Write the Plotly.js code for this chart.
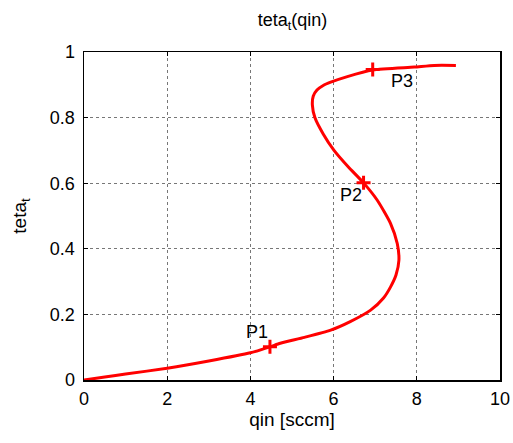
<!DOCTYPE html>
<html>
<head>
<meta charset="utf-8">
<script src="https://cdn.plot.ly/plotly-3.0.1.min.js"></script>
<style>html,body{margin:0;padding:0;background:#fff;}#chart{width:513px;height:443px;}</style>
</head>
<body>
<div id="chart"></div>
<script>
const qin = [0, 0.5, 1, 2, 3, 4, 4.47, 4.72, 5.3, 5.93, 6.4, 6.89, 7.2, 7.37, 7.5, 7.57, 7.53, 7.37, 7.05, 6.72, 6.35, 6.01, 5.75, 5.55, 5.49, 5.51, 5.6, 5.75, 5.93, 6.33, 6.94, 7.94, 8.42, 8.94];
const teta = [0, 0.009, 0.018, 0.036, 0.058, 0.083, 0.101, 0.112, 0.13, 0.152, 0.178, 0.213, 0.25, 0.284, 0.32, 0.365, 0.416, 0.477, 0.548, 0.601, 0.65, 0.70, 0.75, 0.80, 0.838, 0.865, 0.884, 0.898, 0.908, 0.925, 0.945, 0.954, 0.959, 0.959];
const pointNames = ["P1", "P2", "P3"];
const pointQin = [4.47, 6.72, 6.94];
const pointTeta = [0.101, 0.601, 0.947];
const labelQin = [4.15, 6.41, 7.64];
const labelTeta = [0.147, 0.563, 0.913];

const FONT = 'Liberation Sans, Arial, sans-serif';

const traces = [
  {x: qin, y: teta, mode: 'lines', line: {color: '#ff0000', width: 3, shape: 'spline', smoothing: 0.6}, hoverinfo: 'skip'},
  {x: pointQin, y: pointTeta, mode: 'markers',
   marker: {symbol: 'cross-thin', size: 10, color: '#ff0000', line: {color: '#ff0000', width: 3}}}
];

const annotations = pointNames.map((n, i) => ({
  x: labelQin[i], y: labelTeta[i], xref: 'x', yref: 'y', text: n, showarrow: false,
  font: {family: FONT, size: 18, color: '#000'}
}));

const axisCommon = {
  showline: true, linecolor: '#000', linewidth: 1.5, mirror: 'ticks',
  ticks: 'inside', ticklen: 4, tickcolor: '#000', tickwidth: 1,
  showgrid: true, gridcolor: '#777', griddash: 'dot', gridwidth: 1,
  zeroline: false,
  tickfont: {family: FONT, size: 18, color: '#000'}
};

const layout = {
  width: 513, height: 443,
  margin: {l: 84, r: 13, t: 52, b: 63},
  paper_bgcolor: '#fff', plot_bgcolor: '#fff',
  showlegend: false,
  title: {text: 'teta<sub>t</sub>(qin)', x: 0.57, xanchor: 'center', y: 0.955, yanchor: 'middle',
          font: {family: FONT, size: 18, color: '#000'}},
  xaxis: Object.assign({}, axisCommon, {
    range: [0, 10], tickvals: [0, 2, 4, 6, 8, 10], ticktext: ['0','2','4','6','8','10'],
    ticklabelstandoff: 2,
    title: {text: 'qin [sccm]', standoff: 3, font: {family: FONT, size: 19, color: '#000'}}
  }),
  yaxis: Object.assign({}, axisCommon, {
    range: [0, 1], tickvals: [0, 0.2, 0.4, 0.6, 0.8, 1], ticktext: ['0','0.2','0.4','0.6','0.8','1'],
    ticklabelstandoff: 4,
    title: {text: 'teta<sub>t</sub>', standoff: 18, font: {family: FONT, size: 19, color: '#000'}}
  }),
  annotations: annotations
};

Plotly.newPlot('chart', traces, layout, {displayModeBar: false, staticPlot: true});
</script>
</body>
</html>
